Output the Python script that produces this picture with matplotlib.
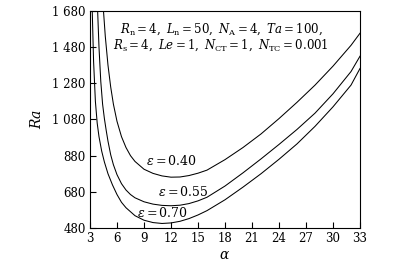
import matplotlib
matplotlib.use('Agg')
import matplotlib.pyplot as plt
from matplotlib.ticker import FuncFormatter

plt.rcParams['font.family'] = 'DejaVu Serif'
plt.rcParams['mathtext.fontset'] = 'dejavuserif'

# curve for eps = 0.40
alpha_40 = [4.5, 4.7, 5.0, 5.3, 5.6, 6.0, 6.5, 7.0, 7.5, 8.0, 9.0, 10.0, 11.0, 12.0, 13.0,
            14.0, 15.0, 16.0, 18.0, 20.0, 22.0, 24.0, 26.0, 28.0, 30.0, 32.0, 33.0]
ra_40 = [1680, 1540, 1380, 1260, 1165, 1070, 985, 925, 880, 848, 805, 782, 768, 761, 762,
         770, 783, 800, 858, 925, 1000, 1085, 1175, 1270, 1375, 1490, 1557]

# curve for eps = 0.55
alpha_55 = [3.85, 4.0, 4.2, 4.4, 4.6, 4.8, 5.0, 5.3, 5.6, 6.0, 6.5, 7.0, 7.5, 8.0, 9.0, 10.0,
            11.0, 12.0, 13.0, 14.0, 15.0, 16.0, 18.0, 20.0, 22.0, 24.0, 26.0, 28.0, 30.0, 32.0, 33.0]
ra_55 = [1680, 1480, 1290, 1165, 1085, 1020, 960, 885, 830, 775, 725, 690, 665, 647, 625, 612,
         605, 603, 606, 615, 630, 650, 712, 785, 862, 942, 1025, 1115, 1222, 1345, 1430]

# curve for eps = 0.70
alpha_70 = [3.25, 3.4, 3.6, 3.8, 4.0, 4.3, 4.6, 5.0, 5.5, 6.0, 6.5, 7.0, 8.0, 9.0, 10.0, 11.0,
            12.0, 13.0, 14.0, 15.0, 16.0, 18.0, 20.0, 22.0, 24.0, 26.0, 28.0, 30.0, 32.0, 33.0]
ra_70 = [1680, 1400, 1180, 1060, 985, 905, 845, 780, 718, 665, 622, 592, 548, 523, 510, 505,
         508, 517, 532, 552, 576, 636, 706, 780, 860, 945, 1042, 1150, 1270, 1362]

xticks = [3, 6, 9, 12, 15, 18, 21, 24, 27, 30, 33]
yticks = [480, 680, 880, 1080, 1280, 1480, 1680]

fig = plt.figure(figsize=(3.94, 2.72), dpi=100)
ax = fig.add_axes([0.2284, 0.1618, 0.6853, 0.7978])

for a, r in [(alpha_40, ra_40), (alpha_55, ra_55), (alpha_70, ra_70)]:
    ax.plot(a, r, color='black', lw=0.75)

ax.set_xlim(3, 33)
ax.set_ylim(480, 1680)
ax.set_xticks(xticks)
ax.set_yticks(yticks)

def thousands(v, pos):
    s = '%d' % v
    if len(s) > 3:
        s = s[:-3] + ' ' + s[-3:]
    return s

ax.yaxis.set_major_formatter(FuncFormatter(thousands))
ax.tick_params(direction='in', length=4, width=0.8, labelsize=8.5, pad=3)
for sp in ax.spines.values():
    sp.set_linewidth(0.8)

ax.set_xlabel(r'$\alpha$', fontsize=10, labelpad=2)
ax.set_ylabel(r'$Ra$', fontsize=10, labelpad=6)

ax.text(12.1, 850, r'$\varepsilon = 0.40$', fontsize=9, ha='center', va='center')
ax.text(13.4, 681, r'$\varepsilon = 0.55$', fontsize=9, ha='center', va='center')
ax.text(11.06, 561, r'$\varepsilon = 0.70$', fontsize=9, ha='center', va='center')

ax.text(0.485, 0.916, r'$R_\mathrm{n} = 4,\ L_\mathrm{n} = 50,\ N_\mathrm{A} = 4,\ Ta = 100,$',
        transform=ax.transAxes, fontsize=8.5, ha='center', va='center')
ax.text(0.485, 0.843, r'$R_\mathrm{s} = 4,\ Le = 1,\ N_\mathrm{CT} = 1,\ N_\mathrm{TC} = 0.001$',
        transform=ax.transAxes, fontsize=8.5, ha='center', va='center')

fig.savefig('out.png', dpi=100)
